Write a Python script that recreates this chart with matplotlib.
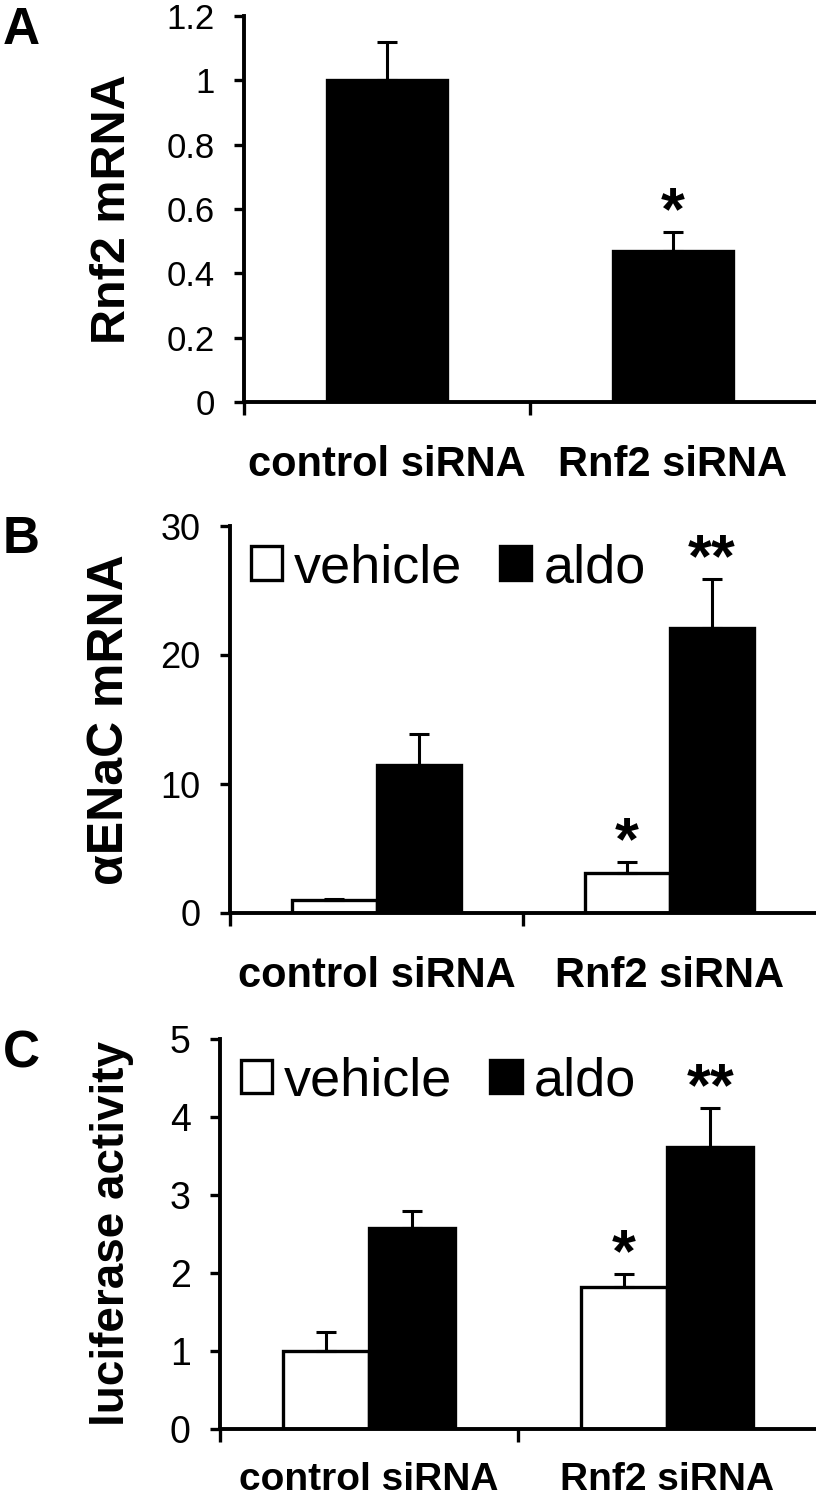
import numpy as np
import matplotlib
matplotlib.use('Agg')
import matplotlib.pyplot as plt

plt.rcParams['font.family'] = ['Liberation Sans', 'DejaVu Sans']

# data
groups = ['control siRNA', 'Rnf2 siRNA']

rnf2_mrna = [1.0, 0.47]
rnf2_err = [0.12, 0.06]
rnf2_stars = ['', '*']

enac_vehicle = [1.0, 3.1]
enac_vehicle_err = [0.1, 0.85]
enac_aldo = [11.5, 22.1]
enac_aldo_err = [2.4, 3.8]
enac_vehicle_stars = ['', '*']
enac_aldo_stars = ['', '**']

luc_vehicle = [1.0, 1.82]
luc_vehicle_err = [0.25, 0.17]
luc_aldo = [2.58, 3.62]
luc_aldo_err = [0.22, 0.5]
luc_vehicle_stars = ['', '*']
luc_aldo_stars = ['', '**']

a_ticks = [0, 0.2, 0.4, 0.6, 0.8, 1.0, 1.2]
a_ticklabels = ['0', '0.2', '0.4', '0.6', '0.8', '1', '1.2']
b_ticks = [0, 10, 20, 30]
c_ticks = [0, 1, 2, 3, 4, 5]

W, H = 816, 1500
fig = plt.figure(figsize=(W / 100, H / 100), dpi=100)

LW = 2.4
ERR_KW = dict(elinewidth=2.2, capsize=7, capthick=2.2, ecolor='black')


def style_axes(ax, ylim, ticks, ticklabels, tick_fs, ylabel, ylabel_fs, label_x,
               xlab_fs=30, xlab_pad=31):
    ax.set_xlim(0, 2)
    ax.set_ylim(*ylim)
    for s in ['top', 'right']:
        ax.spines[s].set_visible(False)
    for s in ['left', 'bottom']:
        ax.spines[s].set_linewidth(2.8)
    ax.set_yticks(ticks)
    ax.set_yticklabels(ticklabels, fontsize=tick_fs)
    ax.tick_params(axis='y', direction='out', length=7, width=2.4, pad=14)
    ax.set_xticks([0, 1])
    ax.set_xticklabels(['', ''])
    ax.tick_params(axis='x', which='major', direction='out', length=9, width=2.4)
    ax.set_xticks([0.5, 1.5], minor=True)
    ax.set_xticklabels(groups, minor=True, fontsize=xlab_fs, fontweight='bold')
    ax.tick_params(axis='x', which='minor', length=0, pad=xlab_pad)
    ax.set_ylabel(ylabel, fontsize=ylabel_fs, fontweight='bold')
    ax.yaxis.set_label_coords(label_x, 0.5)


def stars(ax, xs, tops, labels):
    for x, t, lab in zip(xs, tops, labels):
        if lab:
            ax.annotate(lab, xy=(x, t), xytext=(0, 2), textcoords='offset points',
                        ha='center', va='baseline', fontsize=44, fontweight='bold')


def add_legend(ax, handles):
    ax.legend(handles, ['vehicle', 'aldo'], loc='upper left', bbox_to_anchor=(0.035, 0.955),
              ncol=2, frameon=False, fontsize=39, handlelength=0.58, handleheight=0.58,
              handletextpad=0.22, columnspacing=0.7, borderpad=0, borderaxespad=0)


xc = np.array([0.5, 1.5])
w = 0.29

# panel A
axA = fig.add_axes([244 / W, 1 - 402 / H, 1 - 244 / W, 386 / H])
axA.bar(xc, rnf2_mrna, width=0.42, color='black', edgecolor='black', linewidth=LW,
        yerr=[np.zeros(2), rnf2_err], error_kw=ERR_KW)
style_axes(axA, (0, 1.2), a_ticks, a_ticklabels, 25, 'Rnf2 mRNA', 35, -0.19)
stars(axA, xc, np.array(rnf2_mrna) + np.array(rnf2_err), rnf2_stars)

# panel B
axB = fig.add_axes([230 / W, 1 - 913 / H, 1 - 230 / W, 387 / H])
bv = axB.bar(xc - w / 2, enac_vehicle, width=w, color='white', edgecolor='black', linewidth=LW,
             yerr=[np.zeros(2), enac_vehicle_err], error_kw=ERR_KW)
ba = axB.bar(xc + w / 2, enac_aldo, width=w, color='black', edgecolor='black', linewidth=LW,
             yerr=[np.zeros(2), enac_aldo_err], error_kw=ERR_KW)
style_axes(axB, (0, 30), b_ticks, [str(t) for t in b_ticks], 26, 'αENaC mRNA', 36, -0.165)
stars(axB, xc - w / 2, np.array(enac_vehicle) + np.array(enac_vehicle_err), enac_vehicle_stars)
stars(axB, xc + w / 2, np.array(enac_aldo) + np.array(enac_aldo_err), enac_aldo_stars)
add_legend(axB, [bv, ba])

# panel C
axC = fig.add_axes([220 / W, 1 - 1429 / H, 1 - 220 / W, 390 / H])
cv = axC.bar(xc - w / 2, luc_vehicle, width=w, color='white', edgecolor='black', linewidth=LW,
             yerr=[np.zeros(2), luc_vehicle_err], error_kw=ERR_KW)
ca = axC.bar(xc + w / 2, luc_aldo, width=w, color='black', edgecolor='black', linewidth=LW,
             yerr=[np.zeros(2), luc_aldo_err], error_kw=ERR_KW)
style_axes(axC, (0, 5), c_ticks, [str(t) for t in c_ticks], 27, 'luciferase activity', 33, -0.145,
           xlab_fs=28, xlab_pad=24)
stars(axC, xc - w / 2, np.array(luc_vehicle) + np.array(luc_vehicle_err), luc_vehicle_stars)
stars(axC, xc + w / 2, np.array(luc_aldo) + np.array(luc_aldo_err), luc_aldo_stars)
add_legend(axC, [cv, ca])

# panel letters
for letter, ytop in [('A', 6), ('B', 515), ('C', 1029)]:
    fig.text(3 / W, 1 - ytop / H, letter, fontsize=37, fontweight='bold', ha='left', va='top')

fig.savefig('out.png', dpi=100)
